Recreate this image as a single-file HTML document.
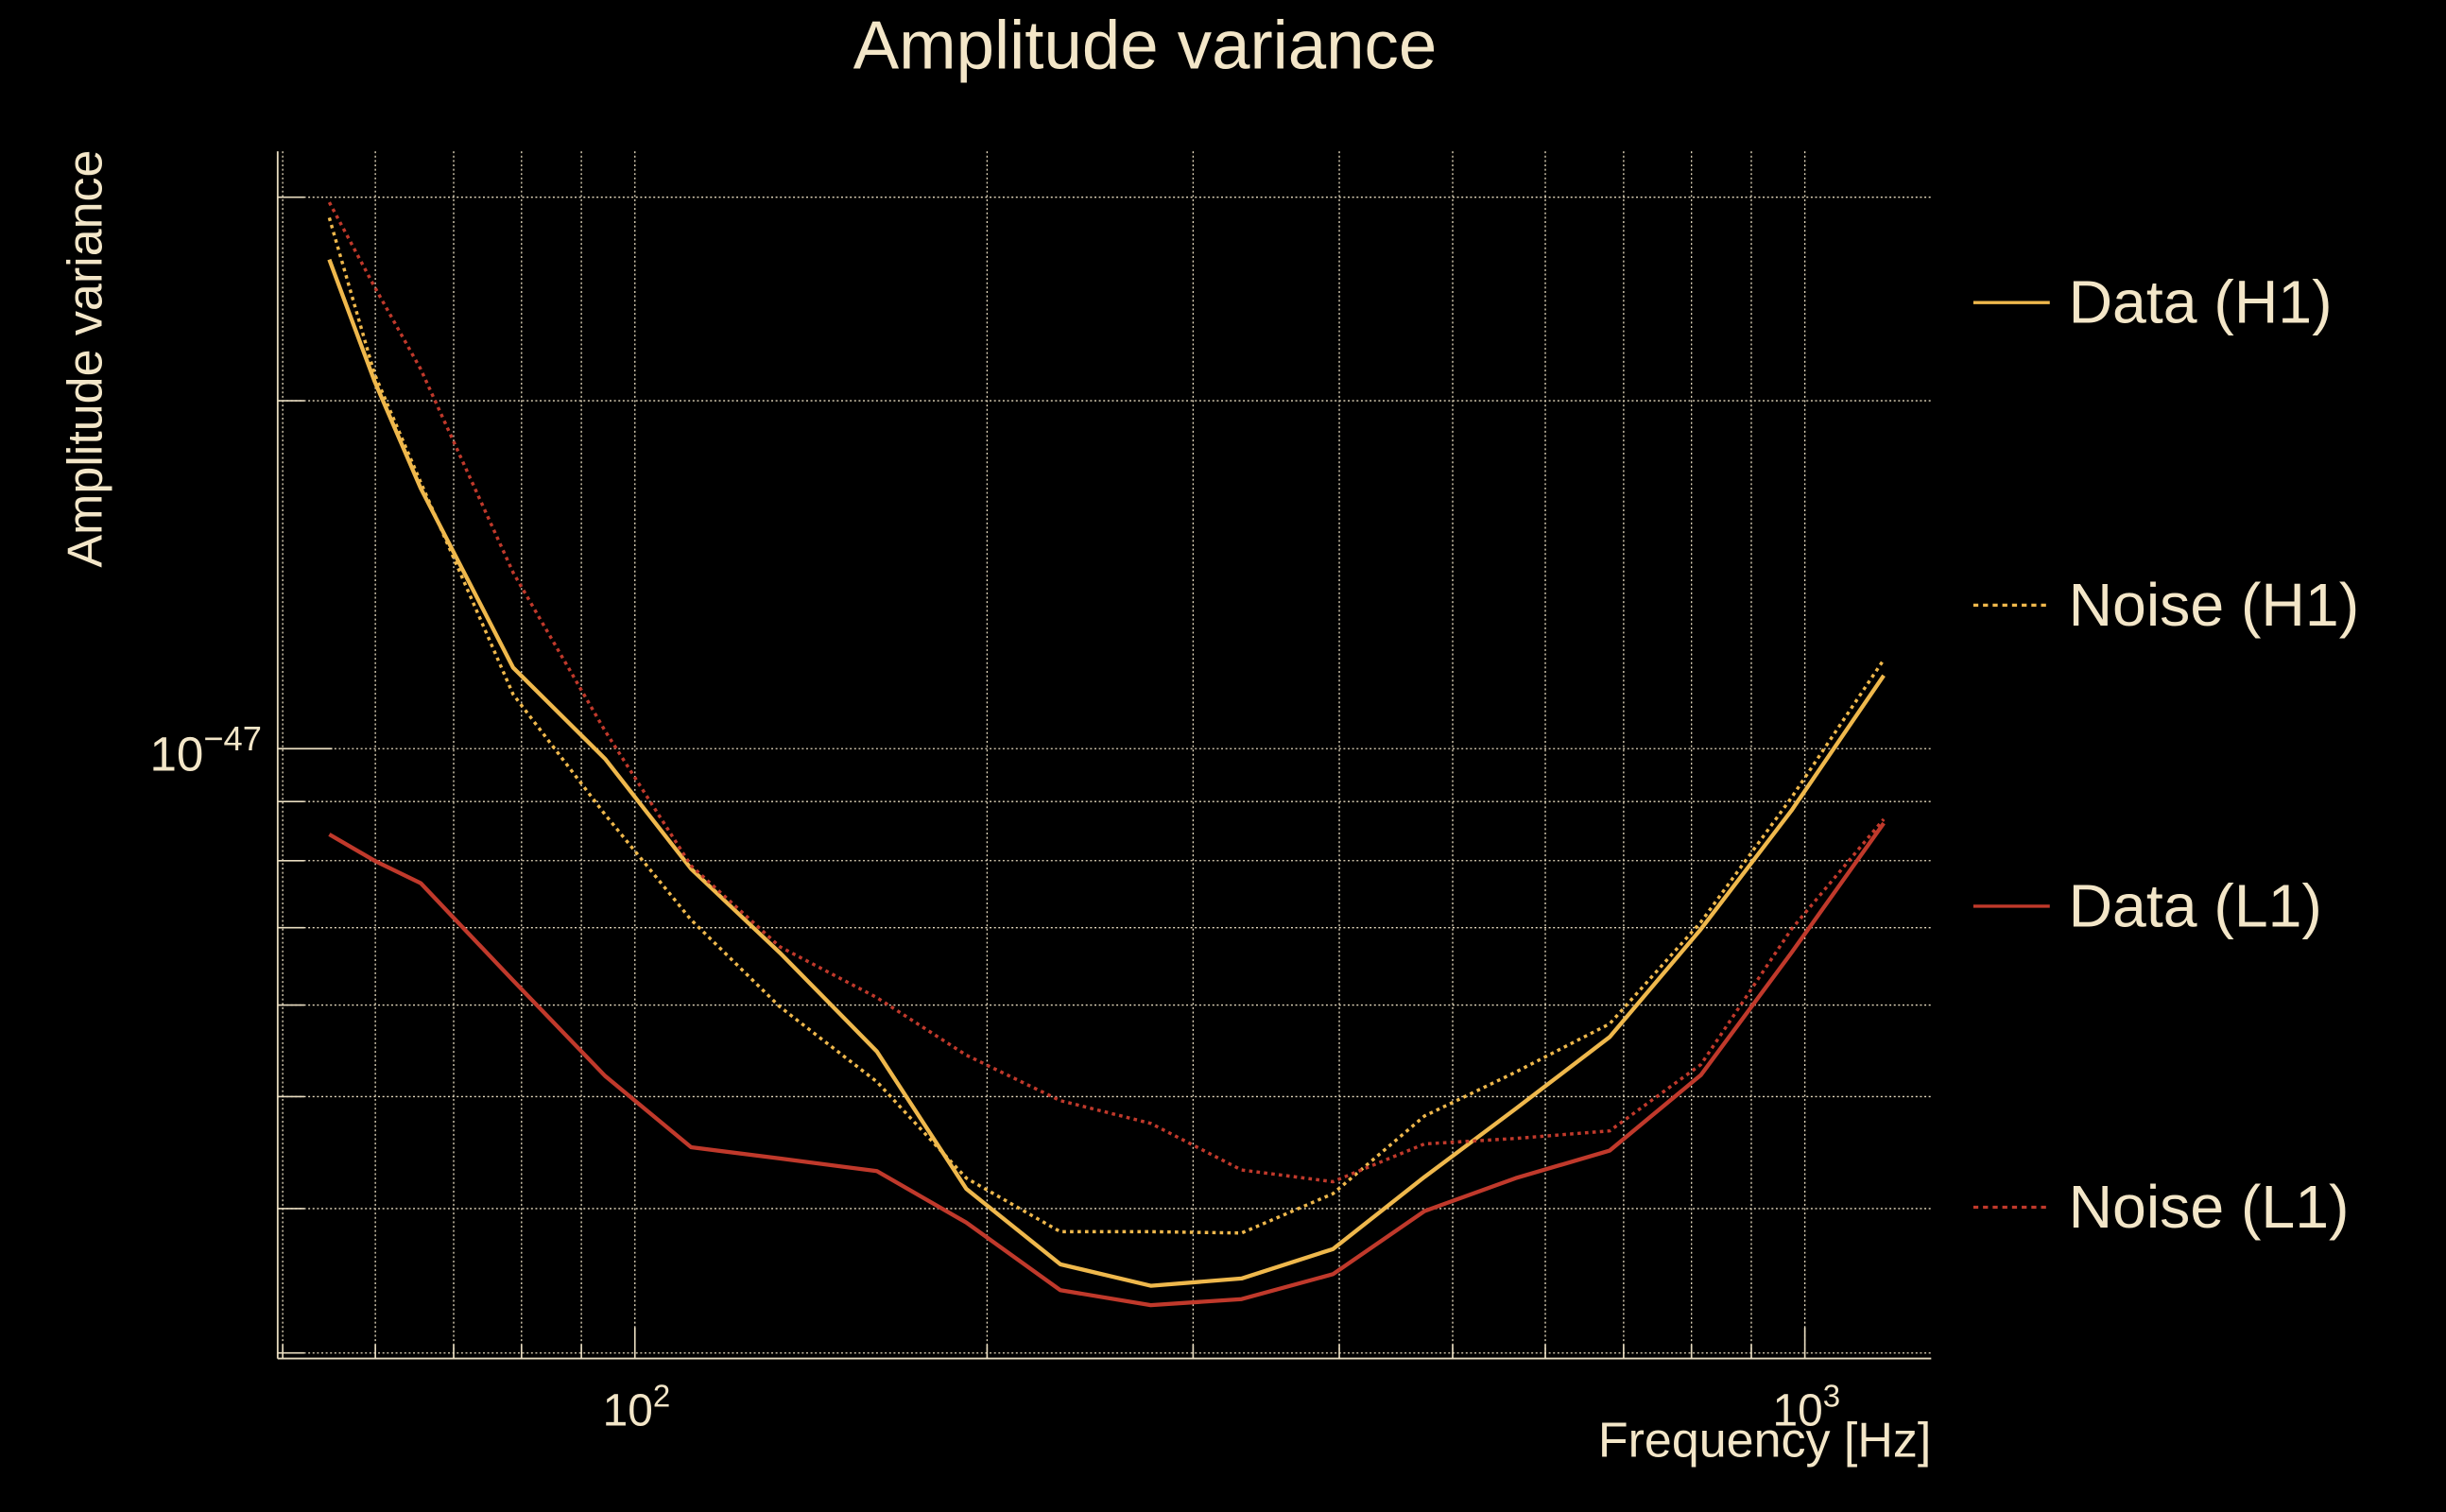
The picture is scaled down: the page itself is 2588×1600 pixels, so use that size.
<!DOCTYPE html>
<html><head><meta charset="utf-8"><style>
html,body{margin:0;padding:0;background:#000;}
svg{display:block;}
text{font-family:"Liberation Sans",sans-serif;fill:#f3e6c8;}
</style></head>
<body>
<svg id="chart" xmlns="http://www.w3.org/2000/svg" width="2588" height="1600" viewBox="0 0 1568 969.4" preserveAspectRatio="none">
<rect x="0" y="0" width="1568" height="969.4" fill="#000"/>
<text x="734" y="44" font-size="44" text-anchor="middle">Amplitude variance</text>
<text transform="translate(65,230) rotate(-90)" font-size="31.5" text-anchor="middle">Amplitude variance</text>
<text x="1238" y="934" font-size="31.5" text-anchor="end">Frequency [Hz]</text>
<g id="grid"></g>
<g id="axes"></g>
<g id="series"></g>
<g id="legend"></g>
</svg>
<script>
const freqs = [54.8, 59.9, 65.6, 78.7, 94.3, 111.7, 133, 161, 192, 231, 276, 330, 395, 473, 566, 681, 815, 974, 1168];
const dataH1 = [2.65e-47, 2.08e-47, 1.68e-47, 1.175e-47, 9.8e-48, 7.87e-48, 6.66e-48, 5.47e-48, 4.16e-48, 3.58e-48, 3.43e-48, 3.48e-48, 3.69e-48, 4.26e-48, 4.88e-48, 5.63e-48, 6.98e-48, 8.84e-48, 1.157e-47];
const noiseH1 = [2.88e-47, 2.11e-47, 1.70e-47, 1.114e-47, 8.77e-48, 7.11e-48, 5.98e-48, 5.15e-48, 4.25e-48, 3.82e-48, 3.82e-48, 3.81e-48, 4.12e-48, 4.81e-48, 5.25e-48, 5.78e-48, 7.08e-48, 9.07e-48, 1.194e-47];
const dataL1 = [8.43e-48, 8.0e-48, 7.65e-48, 6.30e-48, 5.21e-48, 4.52e-48, 4.42e-48, 4.31e-48, 3.89e-48, 3.40e-48, 3.30e-48, 3.34e-48, 3.51e-48, 3.98e-48, 4.25e-48, 4.49e-48, 5.22e-48, 6.66e-48, 8.62e-48];
const noiseL1 = [2.97e-47, 2.51e-47, 2.13e-47, 1.42e-47, 1.036e-47, 7.92e-48, 6.74e-48, 6.09e-48, 5.43e-48, 4.96e-48, 4.74e-48, 4.32e-48, 4.22e-48, 4.55e-48, 4.60e-48, 4.67e-48, 5.33e-48, 6.98e-48, 8.69e-48];
const xMinorTicks = [50,60,70,80,90,100,200,300,400,500,600,700,800,900,1000];
const xMajorTicks = [100,1000];
const xMajorLabels = ["2","3"];
const yGridTicks = [3e-48,4e-48,5e-48,6e-48,7e-48,8e-48,9e-48,1e-47,2e-47,3e-47];
const yMajorTicks = [1e-47];
const yMajorLabels = ["\u221247"];
const seriesNames = ["Data (H1)","Noise (H1)","Data (L1)","Noise (L1)"];

const NS="http://www.w3.org/2000/svg";
const L=178,R=1238,T=97,B=871;
function xs(f){return 407+750*(Math.log10(f)-2);}
function ys(v){return 480-741*(Math.log10(v)+47);}
function mk(tag,attrs,parent){const e=document.createElementNS(NS,tag);for(const k in attrs)e.setAttribute(k,attrs[k]);parent.appendChild(e);return e;}
const grid=document.getElementById('grid'),axes=document.getElementById('axes'),ser=document.getElementById('series'),leg=document.getElementById('legend');
const gc="#e8dcc0";
xMinorTicks.forEach(f=>{const x=xs(f);
 const g=mk('line',{x1:x,x2:x,y1:T,y2:B,stroke:gc,'stroke-width':0.8,'stroke-dasharray':'1.2,1.6'},grid);
 
 
 const t=mk('line',{x1:x,x2:x,y1:B,y2:B-(xMajorTicks.includes(f)?20:9),stroke:gc,'stroke-width':1},axes);
 
 
});
yGridTicks.forEach(v=>{const y=ys(v);
 const g=mk('line',{x1:L,x2:R,y1:y,y2:y,stroke:gc,'stroke-width':0.8,'stroke-dasharray':'1.2,1.6'},grid);
 
 
 const t=mk('line',{x1:L,x2:L+(yMajorTicks.includes(v)?35:17),y1:y,y2:y,stroke:gc,'stroke-width':1},axes);
 
 
});
const ax1=mk('line',{x1:L,x2:L,y1:T,y2:B,stroke:gc,'stroke-width':1.1},axes);


const ax2=mk('line',{x1:L,x2:R,y1:B,y2:B,stroke:gc,'stroke-width':1.1},axes);


xMajorTicks.forEach((f,i)=>{
 const t=mk('text',{x:xs(f)+1,y:914,'font-size':29,'text-anchor':'middle'},axes);
 
 
 t.textContent="10";
 const s=mk('tspan',{dy:-12,'font-size':20},t);s.textContent=xMajorLabels[i];
});
yMajorTicks.forEach((v,i)=>{
 const t=mk('text',{x:96,y:ys(v)+14,'font-size':31},axes);
 
 
 t.textContent="10";
 const s=mk('tspan',{dy:-13,'font-size':22},t);s.textContent=yMajorLabels[i];
});
const styles=[{c:"#efb84c",d:null},{c:"#efb84c",d:"2.2,2.6"},{c:"#c0392b",d:null},{c:"#c0392b",d:"2.2,2.6"}];
const allSeries=[dataH1,noiseH1,dataL1,noiseL1];
const snames=['data-h1-line','noise-h1-line','data-l1-line','noise-l1-line'];
allSeries.forEach((vals,i)=>{
 const pts=freqs.map((f,j)=>xs(f).toFixed(2)+","+ys(vals[j]).toFixed(2)).join(" ");
 const a={points:pts,fill:'none',stroke:styles[i].c,'stroke-width':styles[i].d?2.1:2.6,'stroke-linejoin':'round'};
 if(styles[i].d)a['stroke-dasharray']=styles[i].d;
 const p=mk('polyline',a,ser);
 
 
});
const legY=[194,388,581,774];
const lnames=['legend-data-h1','legend-noise-h1','legend-data-l1','legend-noise-l1'];
seriesNames.forEach((n,i)=>{
 const g=mk('g',{},leg);
 
 
 const a={x1:1265,x2:1314,y1:legY[i],y2:legY[i],stroke:styles[i].c,'stroke-width':2};
 if(styles[i].d)a['stroke-dasharray']='3.2,3';
 const l=mk('line',a,g);
 
 
 const t=mk('text',{x:1326,y:legY[i]+13,'font-size':39},g);
 
 
 t.textContent=n;
});
</script>
</body></html>
